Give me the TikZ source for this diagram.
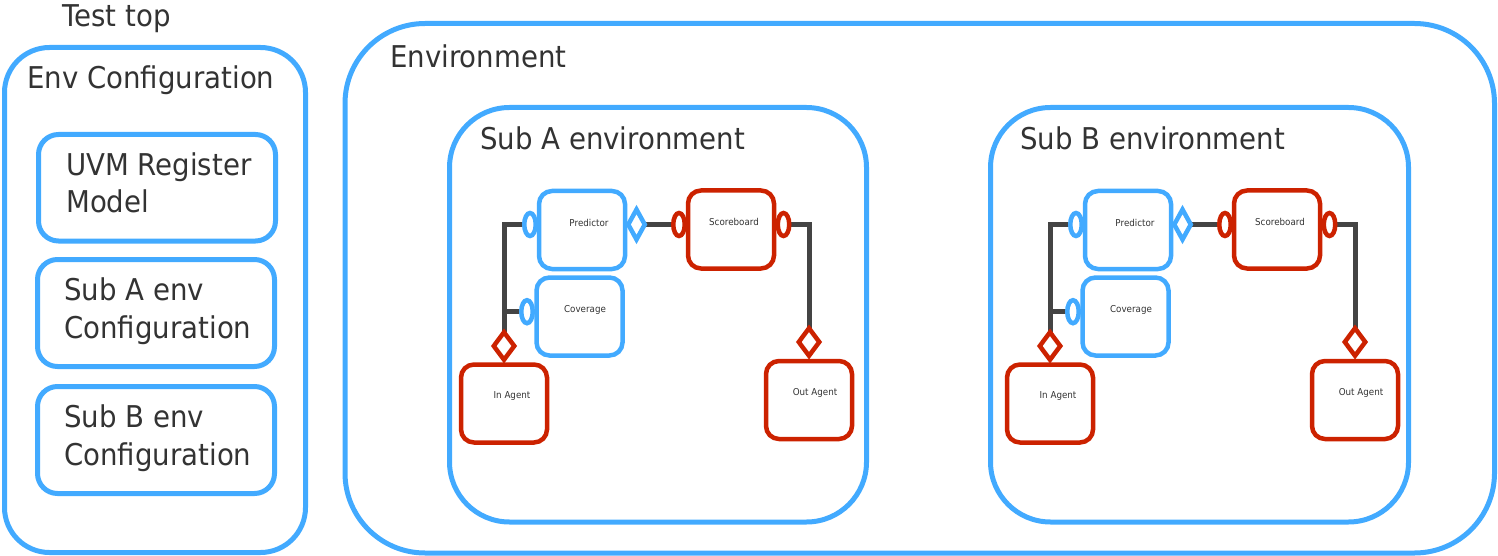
\documentclass[tikz,border=0pt]{standalone}
\usepackage{fontspec}
\setmainfont{DejaVu Sans}[FakeStretch=0.92]
\usetikzlibrary{shapes.geometric,backgrounds}

\definecolor{envblue}{RGB}{66,170,255}
\definecolor{agentred}{RGB}{204,34,0}
\definecolor{wirecol}{RGB}{68,68,68}
\definecolor{ink}{RGB}{51,51,51}

\begin{document}
\begin{tikzpicture}[x=1pt,y=-1pt,
  container/.style={draw=envblue, line width=5pt, rounded corners=#1,
    inner sep=0pt, shape=rectangle},
  compblue/.style={draw=envblue, line width=4.5pt, rounded corners=13pt,
    minimum width=86pt, minimum height=78pt, inner sep=0pt},
  compred/.style={compblue, draw=agentred},
  portblue/.style={ellipse, draw=envblue, fill=white, line width=4.5pt,
    minimum width=11.5pt, minimum height=23pt, inner sep=0pt, outer sep=0pt},
  portred/.style={portblue, draw=agentred},
  diablue/.style={diamond, draw=envblue, fill=white, line width=4.5pt,
    minimum width=16.5pt, minimum height=30pt, inner sep=0pt, outer sep=0pt},
  diared/.style={diamond, draw=agentred, fill=white, line width=4.5pt,
    minimum width=20.5pt, minimum height=27.5pt, inner sep=0pt, outer sep=0pt},
  wire/.style={draw=wirecol, line width=5pt},
  biglabel/.style={anchor=base west, inner sep=0pt, text=ink,
    font=\fontsize{30}{37.5}\selectfont},
  smalllabel/.style={anchor=base, inner sep=0pt, text=ink,
    font=\fontsize{9.5}{11}\selectfont}
]
\useasboundingbox (0,0) rectangle (1498,556);

% ---- test top: configuration column ----
\node[biglabel] (testtop) at (62,27) {Test top};
\node[container=45pt, minimum width=301pt, minimum height=505pt] (envcfg) at (155,300) {};
\node[biglabel] (envcfglbl) at (27,89) {Env Configuration};

\node[container=20pt, minimum width=237pt, minimum height=106.5pt] (uvm) at (157,187.75) {};
\node[biglabel] (uvmA) at (66,176) {UVM Register};
\node[biglabel] (uvmB) at (66,212) {Model};

\node[container=20pt, minimum width=237pt, minimum height=107pt] (subacfg) at (156,313) {};
\node[biglabel] (subacfgA) at (64,300) {Sub A env};
\node[biglabel] (subacfgB) at (64,338) {Configuration};

\node[container=20pt, minimum width=237pt, minimum height=107pt] (subbcfg) at (156,440) {};
\node[biglabel] (subbcfgA) at (64,427) {Sub B env};
\node[biglabel] (subbcfgB) at (64,465) {Configuration};

% ---- environment ----
\node[container=80pt, minimum width=1149.5pt, minimum height=529.5pt] (env) at (919.75,288.25) {};
\node[biglabel] (envlbl) at (390,68) {Environment};

\node[container=60pt, minimum width=417pt, minimum height=414.5pt] (subaenv) at (658,314.75) {};
\node[biglabel] (subaenvlbl) at (480,150) {Sub A environment};

\node[container=60pt, minimum width=418pt, minimum height=414.5pt] (subbenv) at (1199.5,314.75) {};
\node[biglabel] (subbenvlbl) at (1020,150) {Sub B environment};

% ---- components of each sub environment ----
\foreach \s/\dx in {A/0,B/546}{
  \begin{scope}[xshift=\dx pt]
    \node[compblue] (pred\s) at (582,230) {};
    \node[smalllabel] (predlbl\s) at (589,226) {Predictor};
    \node[compblue] (cov\s) at (579.5,316.5) {};
    \node[smalllabel] (covlbl\s) at (585,312) {Coverage};
    \node[compred] (sb\s) at (731,229.5) {};
    \node[smalllabel] (sblbl\s) at (734,225.5) {Scoreboard};
    \node[compred] (inag\s) at (504,403.5) {};
    \node[smalllabel] (inaglbl\s) at (512,398) {In Agent};
    \node[compred] (outag\s) at (809,400) {};
    \node[smalllabel] (outaglbl\s) at (815,395) {Out Agent};

    \node[portblue] (predport\s) at (530,224.5) {};
    \node[portblue] (covport\s) at (527,311.7) {};
    \node[diablue] (preddia\s) at (636.5,224.5) {};
    \node[portred] (sbin\s) at (679,224.5) {};
    \node[portred] (sbout\s) at (783.5,224.5) {};
    \node[diared] (india\s) at (504,346) {};
    \node[diared] (outdia\s) at (809,342) {};
  \end{scope}
  \begin{pgfonlayer}{background}
    \draw[wire] (predport\s.west) -| (india\s.north);
    \draw[wire] (covport\s.west) -- (covport\s.west -| india\s.north);
    \draw[wire] (preddia\s.east) -- (sbin\s.west);
    \draw[wire] (sbout\s.east) -| (outdia\s.north);
  \end{pgfonlayer}
}
\end{tikzpicture}
\end{document}
